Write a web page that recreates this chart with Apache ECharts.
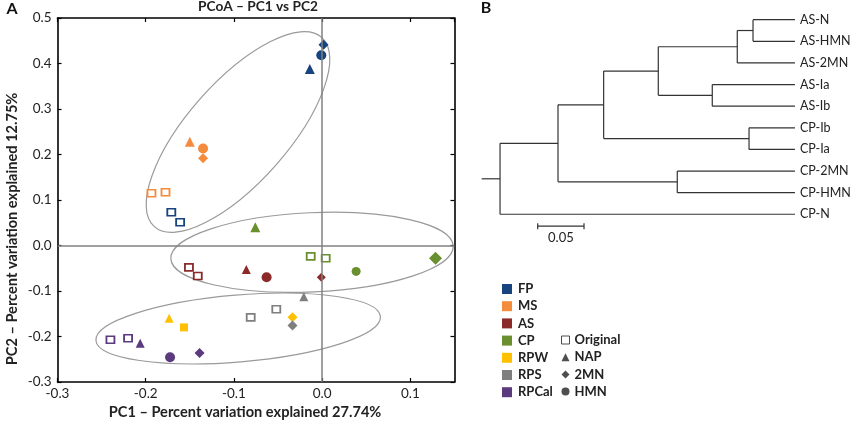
<!DOCTYPE html>
<html><head><meta charset="utf-8">
<style>html,body{margin:0;padding:0;background:#fff}#c{width:851px;height:422px}</style>
<script src="https://cdn.jsdelivr.net/npm/echarts@6/dist/echarts.min.js"></script>
</head><body><div id="c"></div>
<script>
// ---- Panel A data: [PC1, PC2]
const fpOriginal=[[-0.171,0.073],[-0.161,0.051]];
const fpNap=[[-0.014,0.388]];
const fp2mn=[[0.0015,0.441]];
const fpHmn=[[-0.001,0.418]];
const msOriginal=[[-0.1935,0.115],[-0.1776,0.117]];
const msNap=[[-0.150,0.228]];
const ms2mn=[[-0.135,0.192]];
const msHmn=[[-0.135,0.213]];
const asOriginal=[[-0.151,-0.048],[-0.141,-0.067]];
const asNap=[[-0.086,-0.053]];
const as2mn=[[-0.001,-0.0696]];
const asHmn=[[-0.063,-0.0696]];
const cpOriginal=[[-0.013,-0.024],[0.004,-0.028]];
const cpNap=[[-0.0758,0.040]];
const cp2mn=[[0.1285,-0.028]];
const cpHmn=[[0.0385,-0.057]];
const rpwFilled=[[-0.1566,-0.180]];
const rpwNap=[[-0.1735,-0.160]];
const rpw2mn=[[-0.0336,-0.1575]];
const rpsOriginal=[[-0.081,-0.158],[-0.052,-0.14]];
const rpsNap=[[-0.0208,-0.1127]];
const rps2mn=[[-0.0336,-0.176]];
const rpcalOriginal=[[-0.240,-0.207],[-0.22,-0.204]];
const rpcalNap=[[-0.2063,-0.2147]];
const rpcal2mn=[[-0.139,-0.236]];
const rpcalHmn=[[-0.1724,-0.2455]];
// ellipses: centre PC1, centre PC2, semi axes (PC1 units), tilt in degrees
const ellipseData=[[-0.0954,0.2495,0.1432,0.057,48.5],[-0.0115,-0.015,0.1602,0.0449,2.56],[-0.0952,-0.1824,0.1618,0.0379,4.8]];
const groupNames=['FP','MS','AS','CP','RPW','RPS','RPCal'];
const groupColors=['#17437F','#F58B3C','#8C2A2A','#6A8F2E','#FFC000','#7F7F7F','#5B3A7E'];
const shapeNames=['Original','NAP','2MN','HMN'];
// ---- Panel B data: branch-length tree
const leafLabels=['AS-N','AS-HMN','AS-2MN','AS-Ia','AS-Ib','CP-Ib','CP-Ia','CP-2MN','CP-HMN','CP-N'];
const tipDepth=0.3383;
const treeRoot={d:0.0198,c:[{d:0.0824,c:[{d:0.1317,c:[{d:0.1907,c:[{d:0.276,c:[{d:0.293,c:[0,1]},2]},{d:0.249,c:[3,4]}]},{d:0.2887,c:[5,6]}]},{d:0.2112,c:[7,8]}]},9]};
const scaleBar=[0.0605,0.1105,9.55];

const FONT='Lato, Carlito, "Open Sans", sans-serif';
const G=(name,idx,symbol,size,data,hollow)=>({type:'scatter',name,xAxisIndex:0,yAxisIndex:0,data,symbol,symbolSize:size,z:4,
  itemStyle:hollow?{color:'#fff',borderColor:groupColors[idx],borderWidth:1.7,opacity:1}:{color:groupColors[idx],opacity:1}});
const T='triangle',D='diamond',C='circle',R='rect';
const scatter=[
 G('FP',0,R,[8,7],fpOriginal,true),G('FP',0,T,10,fpNap),G('FP',0,D,10,fp2mn),G('FP',0,C,10,fpHmn),
 G('MS',1,R,[8,7],msOriginal,true),G('MS',1,T,10,msNap),G('MS',1,D,10,ms2mn),G('MS',1,C,10,msHmn),
 G('AS',2,R,[8,7],asOriginal,true),G('AS',2,T,9,asNap),G('AS',2,D,9,as2mn),G('AS',2,C,10,asHmn),
 G('CP',3,R,[8,7],cpOriginal,true),G('CP',3,T,10,cpNap),G('CP',3,D,13,cp2mn),G('CP',3,C,9,cpHmn),
 G('RPW',4,R,8,rpwFilled),G('RPW',4,T,9,rpwNap),G('RPW',4,D,10,rpw2mn),
 G('RPS',5,R,[8,7],rpsOriginal,true),G('RPS',5,T,9,rpsNap),G('RPS',5,D,10,rps2mn),
 G('RPCal',6,R,[8,7],rpcalOriginal,true),G('RPCal',6,T,9,rpcalNap),G('RPCal',6,D,10,rpcal2mn),G('RPCal',6,C,10,rpcalHmn)
];
// tree -> segments
const segs=[];
function y(n){return typeof n==='number'?n:(y(n.c[0])+y(n.c[1]))/2;}
function walk(n){
  segs.push([n.d,y(n.c[0]),n.d,y(n.c[1])]);
  n.c.forEach(k=>{
    const kd=typeof k==='number'?tipDepth:k.d;
    segs.push([n.d,y(k),kd,y(k)]);
    if(typeof k!=='number')walk(k);
  });
}
segs.push([0,y(treeRoot),treeRoot.d,y(treeRoot)]);
walk(treeRoot);
const sb=scaleBar;
segs.push([sb[0],sb[2],sb[1],sb[2]],[sb[0],sb[2]-0.14,sb[0],sb[2]+0.14],[sb[1],sb[2]-0.14,sb[1],sb[2]+0.14]);

const axisLine={show:true,onZero:false,lineStyle:{color:'#000',width:1.6}};
const base={min:-0.3,max:0.15,interval:0.1,gridIndex:0,splitLine:{show:false},axisLine,axisTick:{show:true,inside:true,length:4,lineStyle:{color:'#000',width:1.2}}};
const ybase={min:-0.3,max:0.5,interval:0.1,gridIndex:0,splitLine:{show:false},axisLine,axisTick:{show:true,inside:true,length:4,lineStyle:{color:'#000',width:1.2}}};
const lbl={color:'#222',fontFamily:FONT,fontSize:13.5,formatter:v=>(+v).toFixed(1)};
const boldT=(text,x,yy,size,extra)=>({type:'text',x,y:yy,silent:true,style:Object.assign({text,fontFamily:FONT,fontWeight:'bold',fontSize:size,fill:'#222',textAlign:'center',textVerticalAlign:'middle'},extra||{})});

const option={
 animation:false,backgroundColor:'#fff',
 grid:[{left:57.5,top:18,width:397,height:364,containLabel:false},{left:481.7,top:8.9,width:324.1,height:248.6}],
 xAxis:[
  Object.assign({},base,{type:'value',position:'bottom',axisLabel:Object.assign({},lbl,{margin:5,showMaxLabel:false})}),
  Object.assign({},base,{type:'value',position:'top',axisLabel:{show:false}}),
  {type:'value',gridIndex:1,min:0,max:0.35,show:false}
 ],
 yAxis:[
  Object.assign({},ybase,{type:'value',position:'left',axisLabel:Object.assign({},lbl,{margin:6})}),
  Object.assign({},ybase,{type:'value',position:'right',axisLabel:{show:false}}),
  {type:'value',gridIndex:1,min:-0.5,max:11,inverse:true,show:false}
 ],
 legend:[
  {orient:'vertical',left:502,top:281,padding:0,itemWidth:10,itemHeight:10,itemGap:1.2,icon:'rect',selectedMode:false,itemStyle:{borderWidth:0},
   textStyle:{fontFamily:FONT,fontWeight:'bold',fontSize:13,color:'#222',padding:[0,0,0,1],lineHeight:16},
   data:groupNames.map((n,i)=>({name:n,itemStyle:{color:groupColors[i],borderWidth:0}}))},
  {orient:'vertical',left:561,top:332,padding:0,itemWidth:8,itemHeight:8,itemGap:1.2,selectedMode:false,itemStyle:{borderWidth:0},
   textStyle:{fontFamily:FONT,fontWeight:'bold',fontSize:13,color:'#222',lineHeight:16},
   data:[{name:shapeNames[0],icon:'rect',itemStyle:{color:'#fff',borderColor:'#222',borderWidth:1}},{name:shapeNames[1],icon:'triangle',itemStyle:{color:'#222'}},{name:shapeNames[2],icon:'diamond',itemStyle:{color:'#222'}},{name:shapeNames[3],icon:'circle',itemStyle:{color:'#222'}}]}
 ],
 graphic:[
  boldT('A',12,9,16,{fill:'#111'}),boldT('B',486,8,16,{fill:'#111'}),
  boldT('PCoA – PC1 vs PC2',258,7,13.7),
  boldT('PC1 – Percent variation explained 27.74%',245,412,14.6),
  Object.assign(boldT('PC2 – Percent variation explained 12.75%',0,0,14.6),{x:12,y:229,rotation:Math.PI/2})
 ],
 series:[
  {type:'scatter',name:'zero',xAxisIndex:0,yAxisIndex:0,data:[],silent:true,z:2,
   markLine:{silent:true,symbol:'none',label:{show:false},animation:false,lineStyle:{color:'#808080',width:1.5,type:'solid',opacity:1},data:[{xAxis:0},{yAxis:0}]}},
  {type:'custom',name:'ellipses',xAxisIndex:0,yAxisIndex:0,coordinateSystem:'cartesian2d',clip:false,silent:true,z:3,
   data:ellipseData,
   encode:{x:0,y:1},
   renderItem:(p,api)=>{
     const c=api.coord([api.value(0),api.value(1)]);
     const a=api.size([api.value(2),0])[0],b=api.size([api.value(3),0])[0];
     return {type:'ellipse',x:c[0],y:c[1],rotation:api.value(4)*Math.PI/180,
       shape:{cx:0,cy:0,rx:a,ry:b},style:{fill:null,stroke:'#9a9a9a',lineWidth:1.2}};
   }},
  ...scatter,
  ...shapeNames.map(n=>({type:'scatter',name:n,xAxisIndex:0,yAxisIndex:0,data:[]})),
  {type:'custom',name:'tree',xAxisIndex:2,yAxisIndex:2,coordinateSystem:'cartesian2d',clip:false,silent:true,
   data:segs,encode:{x:[0,2],y:[1,3]},
   renderItem:(p,api)=>{
     const s=api.coord([api.value(0),api.value(1)]),e=api.coord([api.value(2),api.value(3)]);
     return {type:'line',shape:{x1:s[0],y1:s[1],x2:e[0],y2:e[1]},style:{stroke:'#333',lineWidth:1.2}};
   }},
  {type:'scatter',name:'leaves',xAxisIndex:2,yAxisIndex:2,symbolSize:0,silent:true,clip:false,
   data:leafLabels.map((n,i)=>({value:[tipDepth,i],name:n})),
   label:{show:true,position:'right',distance:5,formatter:'{b}',fontFamily:FONT,fontSize:12.5,color:'#222',opacity:1}},
  {type:'scatter',name:'scale',xAxisIndex:2,yAxisIndex:2,symbolSize:0,silent:true,clip:false,
   data:[{value:[(sb[0]+sb[1])/2,sb[2]+0.55],name:'0.05'}],
   label:{show:true,position:'inside',formatter:'{b}',fontFamily:FONT,fontSize:13,color:'#222',opacity:1}}
 ]
};
const chart=echarts.init(document.getElementById('c'),null,{renderer:'canvas'});
chart.setOption(option);
</script></body></html>
